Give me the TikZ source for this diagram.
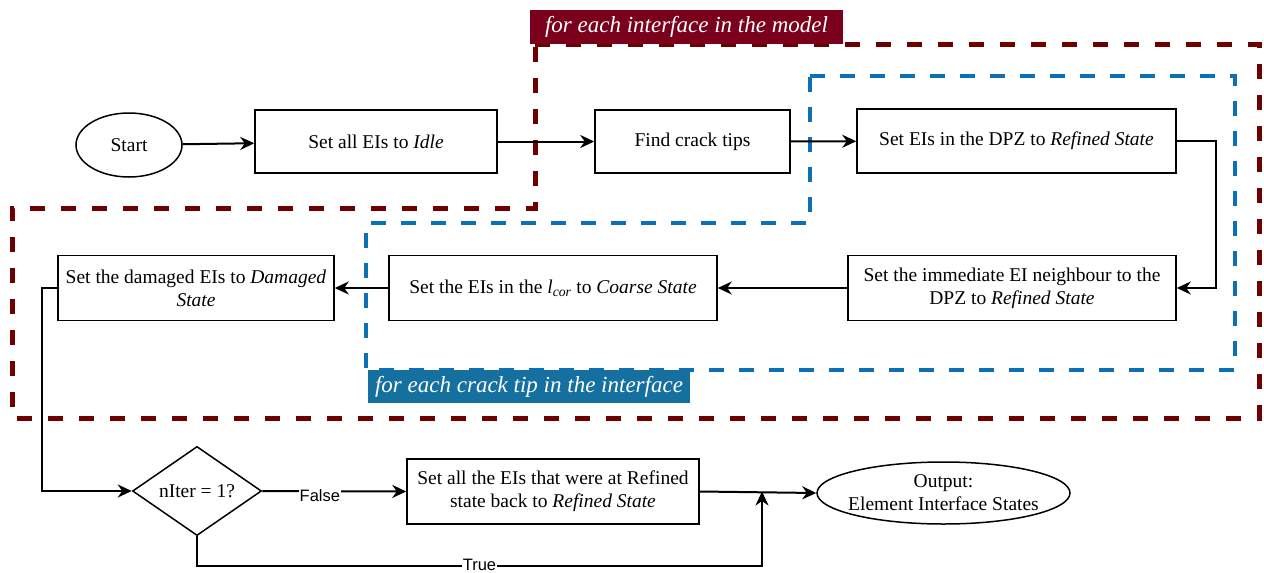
\documentclass[tikz,border=0pt]{standalone}
\usepackage{fontspec}
\setmainfont{Liberation Serif}
\newfontfamily\lsans{Liberation Sans}
\usetikzlibrary{shapes.geometric,arrows.meta}
\definecolor{maroondash}{HTML}{6E0000}
\definecolor{maroonfill}{HTML}{7A001C}
\definecolor{bluedash}{HTML}{0B70B5}
\definecolor{bluefill}{HTML}{1570A0}
\begin{document}
\begin{tikzpicture}[x=1pt,y=-1pt,
  txt/.style={font=\fontsize{19.5}{23}\selectfont},
  box/.style={txt,draw,line width=1.5pt,rectangle,align=center,inner sep=2pt},
  oval/.style={txt,draw,line width=1.5pt,ellipse,align=center,inner sep=1pt},
  dec/.style={txt,draw,line width=1.5pt,diamond,align=center,inner sep=0pt},
  conn/.style={line width=2pt,-{Stealth[length=14pt,width=13pt,inset=4.5pt]}},
  tflabel/.style={font=\lsans\fontsize{16.5}{19}\selectfont,fill=white,inner sep=1pt},
  mdash/.style={draw=maroondash,line width=5pt,dash pattern=on 15pt off 16pt},
  bdash/.style={draw=bluedash,line width=4.2pt,dash pattern=on 15pt off 15pt},
  tag/.style={text=white,font=\itshape\fontsize{23}{26}\selectfont,inner sep=0pt,align=center}
]
\useasboundingbox (0,0) rectangle (1264,573);

% dashed groups
\draw[mdash] (535,44) -- (1259,44) -- (1259,418) -- (12,418) -- (12,208) -- (535,208) -- cycle;
\draw[bdash] (810,76) -- (1235,76) -- (1235,370) -- (366,370) -- (366,223) -- (810,223) -- cycle;

\node[tag,fill=maroonfill,minimum width=313pt,minimum height=34pt] (tagm) at (686.5,27) {for each interface in the model};
\node[tag,fill=bluefill,minimum width=322pt,minimum height=33pt] (tagb) at (529,386.5) {for each crack tip in the interface};

% nodes
\node[oval,minimum width=106pt,minimum height=64pt] (start) at (129,145) {Start};
\node[box,minimum width=242pt,minimum height=63pt] (idle) at (376,141.5) {Set all EIs to \textit{Idle}};
\node[box,minimum width=195pt,minimum height=63pt] (find) at (692.5,141.5) {Find crack tips};
\node[box,minimum width=319pt,minimum height=64pt] (dpz) at (1016.5,141) {Set EIs in the DPZ to \textit{Refined State}};
\node[box,minimum width=328pt,minimum height=65pt] (neigh) at (1012,288) {Set the immediate EI neighbour to the\\DPZ to \textit{Refined State}};
\node[box,minimum width=328pt,minimum height=65pt] (coarse) at (553,288) {Set the EIs in the $\mathit{l}_{\mathit{cor}}$ to \textit{Coarse State}};
\node[box,minimum width=276pt,minimum height=65pt] (dam) at (196,288) {Set the damaged EIs to \textit{Damaged}\\\textit{State}};
\node[dec,minimum width=129pt,minimum height=82pt] (dia) at (197,491) {nIter = 1?};
\node[box,minimum width=292pt,minimum height=65pt] (reset) at (553,491.5) {Set all the EIs that were at Refined\\state back to \textit{Refined State}};
\node[oval,inner xsep=-7pt,inner ysep=-2pt,minimum width=253pt,minimum height=62pt] (out) at (943.5,493) {Output:\\Element Interface States};

\coordinate (rturn) at (1216,141);
\coordinate (lturn) at (42,288);
\coordinate (tcorner) at (762,566);
\coordinate (tjoin) at (762,491.5);

% connectors
\draw[conn] (start) -- (idle);
\draw[conn] (idle) -- (find);
\draw[conn] (find) -- (dpz);
\draw[conn] (dpz.east) -- (rturn) |- (neigh.east);
\draw[conn] (neigh) -- (coarse);
\draw[conn] (coarse) -- (dam);
\draw[conn] (dam.west) -- (lturn) |- (dia.west);
\draw[conn] (dia.east) -- node[tflabel,pos=0.4,yshift=-4pt]{False} (reset.west);
\draw[conn] (reset.east) -- (out.west);
\draw[conn] (dia.south) |- node[tflabel,pos=0.75,yshift=1pt]{True} (tcorner) -- (tjoin);
\end{tikzpicture}
\end{document}
